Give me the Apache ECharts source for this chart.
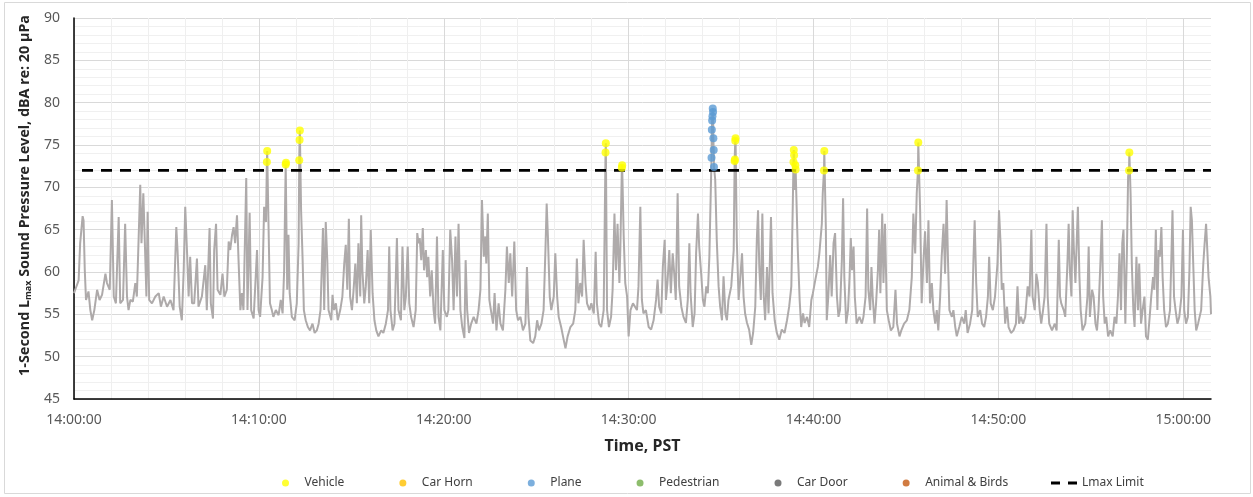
<!DOCTYPE html>
<html><head><meta charset="utf-8">
<script src="https://cdn.jsdelivr.net/npm/echarts@6/dist/echarts.min.js"></script>
<style>html,body{margin:0;padding:0;background:#fff}#c{width:1253px;height:497px}</style>
</head><body><div id="c"></div>
<script>
// seconds after 14:00:00 , 1-second Lmax (dBA)
const level_1400 = [[0,57.5],[4,57.9],[15,59],[20,63.4],[28,66.6],[31,66.1],[35,60.2],[39,56.7],[47,57.7],[53,55.5],[59,54.3],[66,55.5],[75,57.9],[83,56.7],[91,57.3],[102,59.8],[107,58.7],[116,57.9],[123,68.5],[129,57.1],[136,56.3],[145,66.5],[150,56.3],[159,56.7],[166,65.7],[172,57.1],[177,55.5],[183,56.7],[191,56.5],[199,58.7],[204,57.1],[215,70.3],[219,63.4],[225,69.3],[230,63.4],[235,57.1],[239,67.1],[244,56.7],[253,56.3],[264,57.1],[275,57.5],[282,55.9],[291,57.1],[302,55.9],[313,56.7],[323,55.5],[332,65.3],[336,62.6],[343,55.9],[350,54.3],[356,60.2],[361,67.7],[367,62.2],[372,57.1],[377,61.8],[383,56.3],[390,56.3],[399,61.6],[404,55.9],[415,57.1],[426,60.8],[431,55.5],[440,65.2],[444,56.3],[451,54.5],[455,62.6],[461,65.7],[466,57.9],[475,57.3],[482,59.8],[488,57.1],[496,57.9],[502,63.6],[507,62.6],[513,64.4],[518,65.3],[523,63.4],[529,66.7],[534,61.4],[540,55.5],[545,57.5],[550,55.5],[559,71.1],[563,55.5],[570,67],[575,55.5],[583,54.5],[588,54.7],[594,62.6],[599,55.5]];
const level_1410 = [[604,54.7],[612,59.4],[617,67.7],[623,65.9],[626,73.0],[627,74.3],[631,66.1],[636,56.3],[642,55.5],[647,54.7],[655,55.5],[664,54.9],[671,56.7],[677,55.1],[682,60.2],[687,72.7],[688,72.9],[692,57.9],[696,64.4],[700,57.5],[707,54.7],[716,54.3],[723,56.3],[729,63.4],[731,73.2],[732,75.6],[733,76.7],[737,67.3],[742,61.4],[746,55.5],[752,54.3],[759,53.5],[766,53.1],[774,53.9],[781,52.8],[788,53.1],[794,53.9],[800,55.5],[808,65.2],[812,55.5],[817,65.9],[822,61.4],[826,55.5],[835,54.3],[839,57.3],[844,55.5],[850,56.3],[856,54.3],[864,55.5],[871,57.1],[877,61],[882,63.2],[887,57.9],[892,66.3],[896,57.1],[902,55.5],[907,57.7],[913,61],[918,56.3],[923,63.4],[929,57.1],[932,66.7],[936,60.2],[942,56.3],[947,58.3],[953,62.6],[958,56.3],[963,65],[969,57.5],[975,54.3],[981,53.1],[988,52.4],[997,53.1],[1004,52.8],[1012,53.9],[1019,55.5],[1023,63],[1027,55.5],[1034,53.1],[1040,53.9],[1048,64],[1053,55.5],[1061,54.3],[1066,63],[1072,55.5],[1077,57.1],[1083,63],[1088,56.3],[1094,54.7],[1102,53.5],[1109,55.5],[1114,64.6],[1118,63.4],[1122,64],[1127,61.4],[1132,65.2],[1136,60.2],[1142,62.6],[1146,59.4],[1150,61.8],[1156,57.1],[1161,60.2],[1167,55.5],[1172,53.9],[1178,64.2],[1183,54.7],[1189,53.1],[1197,62.6],[1202,55.5],[1210,54.7],[1215,55.5]];
const level_1420 = [[1221,65],[1227,61.4],[1232,55.5],[1238,64.2],[1243,57.1],[1248,65.7],[1254,55.5],[1260,53.5],[1267,52.2],[1271,61.4],[1276,55.5],[1282,52.8],[1289,53.9],[1297,54.7],[1306,53.9],[1313,55.5],[1319,57.9],[1324,68.5],[1330,61.8],[1335,64.2],[1338,61],[1343,66.9],[1348,56.7],[1353,55.5],[1360,53.9],[1365,57.5],[1371,53.1],[1378,56.3],[1384,53.9],[1392,53.1],[1400,57.9],[1405,63],[1411,58.7],[1416,62.2],[1422,57.1],[1429,63.6],[1435,55.5],[1441,54.3],[1449,54.7],[1457,53.1],[1465,53.9],[1470,60.6],[1475,54.7],[1481,51.9],[1490,51.6],[1497,52.4],[1503,54.3],[1509,53.1],[1517,53.9],[1524,55.5],[1530,62.6],[1534,68.1],[1538,64.2],[1544,57.1],[1549,55.5],[1557,57.1],[1562,62.2],[1568,57.1],[1573,54.7],[1581,53.5],[1587,52.4],[1595,51],[1602,52.4],[1611,53.5],[1620,53.9],[1627,55.5],[1632,61.6],[1637,56.3],[1643,58.7],[1649,57.1],[1654,63.8],[1660,58.7],[1665,56.3],[1673,55.5],[1679,56.3],[1687,55.1],[1693,62.4],[1697,56.3],[1704,53.9],[1711,53.5],[1719,55.5],[1725,74.1],[1726,75.2],[1730,55.5],[1736,53.5],[1743,54.7],[1748,57.9],[1754,66.9],[1759,60.2],[1764,65.7],[1770,58.7],[1773,62.6],[1778,72.3],[1779,72.6],[1784,64.2],[1789,58.7],[1795,57.1],[1800,52.4],[1806,55.5],[1814,56.3]];
const level_1430 = [[1827,55.5],[1832,58.3],[1838,67.7],[1843,56.7],[1848,55.1],[1856,55.5],[1865,53.5],[1873,53.2],[1881,54.3],[1889,56.7],[1894,59.1],[1899,55.9],[1906,55.1],[1911,60.6],[1917,63.8],[1921,56.7],[1926,58.7],[1932,62.6],[1937,57.5],[1943,62.2],[1948,59.8],[1953,56.7],[1959,69.3],[1964,58.3],[1971,55.9],[1978,54.7],[1986,54],[1992,56.7],[1997,63.4],[2001,57.5],[2008,53.5],[2014,55.1],[2019,62.2],[2025,66.9],[2029,63],[2036,59.5],[2041,56.7],[2046,55.9],[2052,58.3],[2057,57.5],[2062,61.8],[2066,68.5],[2069,73.5],[2070,76.8],[2071,77.9],[2072,78.4],[2073,79.3],[2074,78.9],[2075,75.8],[2076,74.4],[2077,72.4],[2081,70.9],[2086,63.8],[2092,58.3],[2097,55.9],[2103,54.3],[2108,59.5],[2114,55.1],[2119,54.3],[2124,56.7],[2133,58.3],[2141,62.6],[2144,73.1],[2145,73.3],[2146,75.5],[2147,75.8],[2151,63.8],[2157,56.7],[2162,59.1],[2168,62.2],[2173,57.1],[2178,55.1],[2184,54],[2191,53.2],[2198,51.4],[2204,52.8],[2211,55.9],[2216,63.8],[2220,67.3],[2224,60.6],[2229,56.7],[2234,66.9],[2238,57.5],[2243,54.3],[2249,60.6],[2254,55.1],[2262,66.5],[2267,57.5],[2274,54.3],[2281,52.8],[2289,52],[2297,53.2],[2306,52.8],[2314,54.3],[2321,55.9],[2328,58.3],[2333,68.5],[2335,73.0],[2336,74.4],[2337,73.8],[2339,69.7],[2341,72.6],[2342,72.1],[2349,62.6],[2355,56.7],[2360,53.5],[2366,55.1],[2371,54],[2379,54.7],[2386,53.5],[2393,56.7],[2398,57.5],[2406,59.1],[2414,60.6]];
const level_1440 = [[2419,62.2],[2427,65.7],[2430,69.3],[2434,72.0],[2435,74.3],[2440,65.3],[2443,54.3],[2448,57.1],[2454,62],[2459,57.1],[2465,63.4],[2470,64.6],[2476,57.1],[2481,54.7],[2486,55.5],[2492,61.4],[2496,68.7],[2500,59.4],[2506,53.9],[2512,55.5],[2517,59.4],[2521,64],[2525,60.2],[2530,63],[2534,57.1],[2540,53.9],[2549,54.7],[2557,53.9],[2562,54.7],[2569,57.1],[2574,67.5],[2578,57.9],[2584,55.5],[2588,60.6],[2592,57.1],[2598,53.9],[2603,56.3],[2609,60.2],[2613,65],[2617,57.5],[2623,66.9],[2627,58.7],[2632,65.7],[2638,55.5],[2644,54.3],[2651,53.1],[2659,53.5],[2666,57.9],[2671,53.9],[2679,52.4],[2685,53.1],[2694,53.9],[2703,54.3],[2711,55.5],[2719,59.4],[2724,66.9],[2730,62.2],[2735,69.3],[2739,72.0],[2740,75.3],[2746,67.3],[2751,56.3],[2757,61.4],[2762,64.8],[2768,58.7],[2773,66.1],[2778,56.3],[2784,58.7],[2789,55.5],[2795,53.9],[2800,55.5],[2805,53.1],[2811,57.1],[2816,61.8],[2822,65.7],[2827,59.8],[2832,68.5],[2837,60.6],[2841,55.5],[2849,54.7],[2854,55.5],[2860,53.5],[2865,52.4],[2873,53.5],[2881,54.7],[2889,53.9],[2894,55.5],[2900,52.8],[2908,53.9],[2915,55.5],[2919,61.4],[2923,66.1],[2928,58.7],[2933,54.7],[2941,55.5],[2947,53.9],[2954,53.5],[2960,54.7],[2966,57.1],[2970,61.8],[2975,56.3],[2982,55.5],[2989,57.1],[2997,61],[3002,67.3],[3007,63.4],[3011,57.9],[3016,58.7]];
const level_1450 = [[3022,53.9],[3028,55.9],[3033,53.5],[3041,52.8],[3049,53.1],[3057,53.9],[3062,58.3],[3067,53.9],[3073,54.7],[3080,53.9],[3087,54.7],[3095,58.3],[3101,57.1],[3107,65],[3111,57.1],[3118,55.5],[3123,59.8],[3128,58.7],[3134,55.5],[3139,53.9],[3145,55.5],[3150,57.1],[3156,65.7],[3160,57.1],[3165,53.9],[3174,53.1],[3183,53.9],[3189,53.1],[3196,63.8],[3200,57.1],[3204,56.3],[3212,55.5],[3217,54.7],[3224,61],[3228,65.7],[3232,60.2],[3237,57.1],[3241,67.3],[3245,62.6],[3250,58.7],[3254,63.4],[3258,67.7],[3263,59.4],[3267,55.5],[3273,53.1],[3282,53.9],[3289,57.1],[3293,63],[3297,54.7],[3304,57.9],[3309,57.1],[3315,53.9],[3320,53.1],[3325,55.5],[3331,61],[3336,66.1],[3340,57.1],[3345,53.9],[3350,54.7],[3356,52.4],[3363,53.1],[3371,52.4],[3377,54.7],[3383,53.9],[3388,57.1],[3393,62.2],[3398,55.5],[3402,63.4],[3406,65],[3412,53.9],[3417,62.2],[3421,71.3],[3424,72.0],[3425,74.1],[3429,69.3],[3433,61],[3438,55.5],[3442,53.5],[3448,61.8],[3453,55.5],[3457,61],[3463,53.9],[3468,55.5],[3474,57.1],[3479,52.4],[3485,52],[3491,54.7],[3496,57.1],[3502,59.4],[3506,57.9],[3511,65],[3516,55.5],[3520,62.6],[3524,61.8],[3529,65.3],[3533,59.4],[3538,55.5],[3544,53.5],[3550,53.9],[3557,55.5],[3562,62.6],[3565,67.3],[3570,57.1],[3575,55.5],[3581,53.9],[3587,54.7],[3594,57.1],[3599,65],[3603,55.5],[3609,53.9],[3615,54.7],[3620,60.2],[3624,67.7],[3628,66.1],[3633,60.2],[3637,55.5],[3642,53.1],[3648,53.9],[3653,54.7],[3658,55.5],[3665,61],[3669,63.2],[3674,65.7],[3678,62.6],[3682,59.4],[3688,57.1],[3690,55]];

const vehicleEvents = [[626,73.0],[627,74.3],[687,72.7],[688,72.9],[731,73.2],[732,75.6],[733,76.7],[1725,74.1],[1726,75.2],[1778,72.3],[1779,72.6],[2144,73.1],[2145,73.3],[2146,75.5],[2147,75.8],[2335,73.0],[2336,74.4],[2337,73.8],[2341,72.6],[2342,72.1],[2434,72.0],[2435,74.3],[2739,72.0],[2740,75.3],[3424,72.0],[3425,74.1]];
const carHornEvents = [];
const planeEvents = [[2069,73.5],[2070,76.8],[2071,77.9],[2072,78.4],[2073,79.3],[2074,78.9],[2075,75.8],[2076,74.4],[2077,72.4]];
const pedestrianEvents = [];
const carDoorEvents = [];
const animalEvents = [];

const lmaxLimit = 72;
const timeStart = 0, timeEnd = 3690;   // 14:00:00 .. 15:01:30
const legendNames = ['Vehicle','Car Horn','Plane','Pedestrian','Car Door','Animal & Birds','Lmax Limit'];

const levelData = [].concat(level_1400, level_1410, level_1420, level_1430, level_1440, level_1450);
const FONT = 'Noto Sans';
function fmtTime(v){
  if (v % 600 !== 0) return '';
  const h = 14 + Math.floor(v/3600), m = Math.floor((v%3600)/60), s = v%60;
  const p = n => (n<10?'0':'')+n;
  return h + ':' + p(m) + ':' + p(s);
}
const chart = echarts.init(document.getElementById('c'), null, {renderer:'canvas'});
const scatter = (name, data, color, size) => ({
  name, type:'scatter', data, symbol:'circle', symbolSize:size,
  itemStyle:{color}, z:5, animation:false
});
chart.setOption({
  animation:false,
  textStyle:{fontFamily:FONT},
  grid:{left:74, right:42, top:18, bottom:98, containLabel:false},
  graphic:[{type:'rect', shape:{x:4.5, y:2.5, width:1246, height:491}, style:{fill:'none', stroke:'#d9d9d9', lineWidth:1}, silent:true, z:-10}],
  legend:[{
    left:277, top:472, itemGap:55, itemWidth:28, itemHeight:7,
    textStyle:{fontSize:12, color:'#404040', fontFamily:FONT},
    data:legendNames.slice(0,6).map(n => ({name:n, icon:'circle'})),
    selectedMode:false
  },{
    left:1046, top:472, itemWidth:26, itemHeight:7,
    textStyle:{fontSize:12, color:'#404040', fontFamily:FONT},
    data:[{name:legendNames[6], icon:'path://M0 0H9V3H0Z M17 0H26V3H17Z'}],
    selectedMode:false
  }],
  xAxis:{
    type:'value', min:timeStart, max:timeEnd, interval:120,
    axisLine:{show:true, onZero:false, lineStyle:{color:'#000', width:1.5}},
    axisTick:{show:false},
    axisLabel:{formatter:fmtTime, margin:14, color:'#595959', fontSize:14, fontFamily:FONT, showMaxLabel:false},
    splitLine:{show:true, showMaxLine:false, lineStyle:{color:['#d9d9d9','#efefef','#efefef','#efefef','#efefef'], width:1}},
    name:'Time, PST', nameLocation:'middle', nameGap:39,
    nameTextStyle:{fontWeight:'bold', fontSize:16, color:'#262626', fontFamily:FONT}
  },
  yAxis:{
    type:'value', min:45, max:90, interval:5,
    axisLine:{show:true, lineStyle:{color:'#000', width:1.5}},
    axisTick:{show:false},
    axisLabel:{margin:14, color:'#595959', fontSize:14, fontFamily:FONT},
    splitLine:{show:true, lineStyle:{color:'#d9d9d9', width:1}},
    minorTick:{show:false, splitNumber:5},
    minorSplitLine:{show:true, lineStyle:{color:'#f0f0f0', width:1}},
    name:'{a|1-Second L}{b|max}{a| Sound Pressure Level, dBA re: 20 µPa}',
    nameLocation:'middle', nameGap:29,
    nameTextStyle:{
      color:'#262626', fontFamily:FONT, padding:[0,0,0,26],
      rich:{
        a:{fontSize:14.4, fontWeight:'bold', lineHeight:17, verticalAlign:'middle', color:'#262626', fontFamily:FONT},
        b:{fontSize:9, fontWeight:'bold', lineHeight:9, verticalAlign:'bottom', color:'#262626', fontFamily:FONT}
      }
    }
  },
  series:[
    {name:'Level', type:'line', data:levelData, symbol:'none', showSymbol:false, sampling:null,
     lineStyle:{color:'#AEAAAA', width:2}, itemStyle:{color:'#AEAAAA'}, z:2, silent:true},
    {name:legendNames[6], type:'line', data:[[timeStart,lmaxLimit],[timeEnd,lmaxLimit]], symbol:'none',
     lineStyle:{color:'#000', width:2.8, type:[11,8], dashOffset:11}, itemStyle:{color:'#000'}, z:3, silent:true},
    scatter(legendNames[0], vehicleEvents, '#FFFF00', 8),
    scatter(legendNames[1], carHornEvents, '#FFC000', 8),
    scatter(legendNames[2], planeEvents, '#5B9BD5', 8),
    scatter(legendNames[3], pedestrianEvents, '#70AD47', 8),
    scatter(legendNames[4], carDoorEvents, '#595959', 8),
    scatter(legendNames[5], animalEvents, '#C55A11', 8)
  ]
});
</script></body></html>
